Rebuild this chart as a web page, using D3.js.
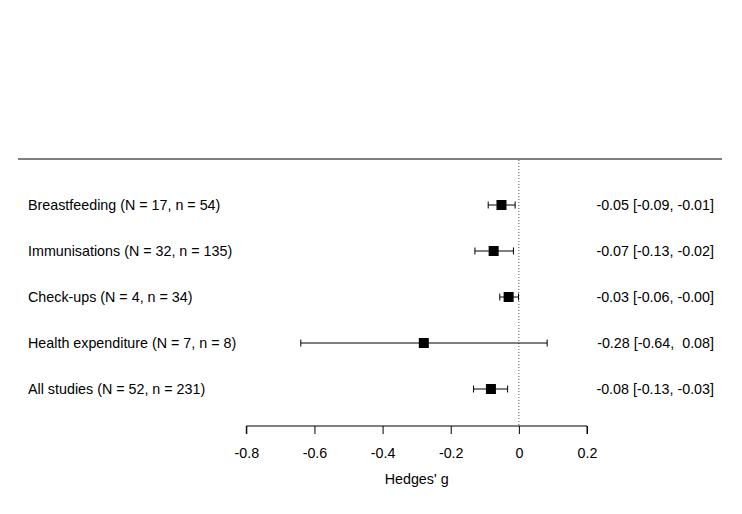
<!DOCTYPE html>
<html><head><meta charset="utf-8">
<script src="https://cdn.jsdelivr.net/npm/d3@7"></script>
<style>body{margin:0;background:#fff}svg{display:block}text{font-family:"Liberation Sans",Arial,sans-serif;fill:#000}</style>
</head><body><div id="chart"></div>
<script>
const labels = ["Breastfeeding (N = 17, n = 54)","Immunisations (N = 32, n = 135)","Check-ups (N = 4, n = 34)","Health expenditure (N = 7, n = 8)","All studies (N = 52, n = 231)"];
const estimates = [-0.051, -0.074, -0.030, -0.279, -0.082];
const lower = [-0.090, -0.129, -0.056, -0.640, -0.133];
const upper = [-0.011, -0.016, -0.001, 0.083, -0.033];
const annotations = ["-0.05 [-0.09, -0.01]","-0.07 [-0.13, -0.02]","-0.03 [-0.06, -0.00]","-0.28 [-0.64,  0.08]","-0.08 [-0.13, -0.03]"];
const ticks = [-0.8,-0.6,-0.4,-0.2,0,0.2];
const tickLabels = ["-0.8","-0.6","-0.4","-0.2","0","0.2"];

const W=742,H=514,FS=14.3;
const svg=d3.select("#chart").append("svg").attr("width",W).attr("height",H);
const x=d3.scaleLinear().domain([-0.8,0.2]).range([246.3,587]);
const y=d3.scalePoint().domain(d3.range(labels.length)).range([205,389]);

svg.append("line").attr("x1",18).attr("x2",722).attr("y1",159).attr("y2",159).attr("stroke","#000").attr("stroke-width",1);
svg.append("line").attr("x1",x(0)).attr("x2",x(0)).attr("y1",160).attr("y2",425).attr("stroke","#555").attr("stroke-dasharray","1,2");

const g=svg.selectAll("g.row").data(labels).join("g").attr("class","row");
g.append("line").attr("x1",(d,i)=>x(lower[i])).attr("x2",(d,i)=>x(upper[i])).attr("y1",(d,i)=>y(i)).attr("y2",(d,i)=>y(i)).attr("stroke","#000");
g.append("line").attr("x1",(d,i)=>x(lower[i])).attr("x2",(d,i)=>x(lower[i])).attr("y1",(d,i)=>y(i)-3.5).attr("y2",(d,i)=>y(i)+3.5).attr("stroke","#000");
g.append("line").attr("x1",(d,i)=>x(upper[i])).attr("x2",(d,i)=>x(upper[i])).attr("y1",(d,i)=>y(i)-3.5).attr("y2",(d,i)=>y(i)+3.5).attr("stroke","#000");
g.append("rect").attr("x",(d,i)=>x(estimates[i])-5).attr("y",(d,i)=>y(i)-5).attr("width",10).attr("height",10).attr("fill","#000");
g.append("text").attr("x",28).attr("y",(d,i)=>y(i)).attr("dy","0.35em").attr("font-size",FS).text(d=>d);
g.append("text").attr("x",714).attr("y",(d,i)=>y(i)).attr("dy","0.35em").attr("font-size",FS).attr("text-anchor","end").style("white-space","pre").text((d,i)=>annotations[i]);

const ax=svg.append("g").attr("transform","translate(0,426)").call(d3.axisBottom(x).tickValues(ticks).tickSize(8).tickPadding(14).tickFormat((d,i)=>tickLabels[i]));
ax.select(".domain").attr("d",`M${x(-0.8)},8V0H${x(0.2)}V8`).attr("stroke","#000");
ax.selectAll(".tick line").attr("stroke","#000");
ax.selectAll("text").attr("font-size",FS).attr("font-family","Liberation Sans, Arial, sans-serif");
svg.append("text").attr("x",x(-0.3)).attr("y",479).attr("dy","0.35em").attr("text-anchor","middle").attr("font-size",FS).text("Hedges' g");
</script></body></html>
